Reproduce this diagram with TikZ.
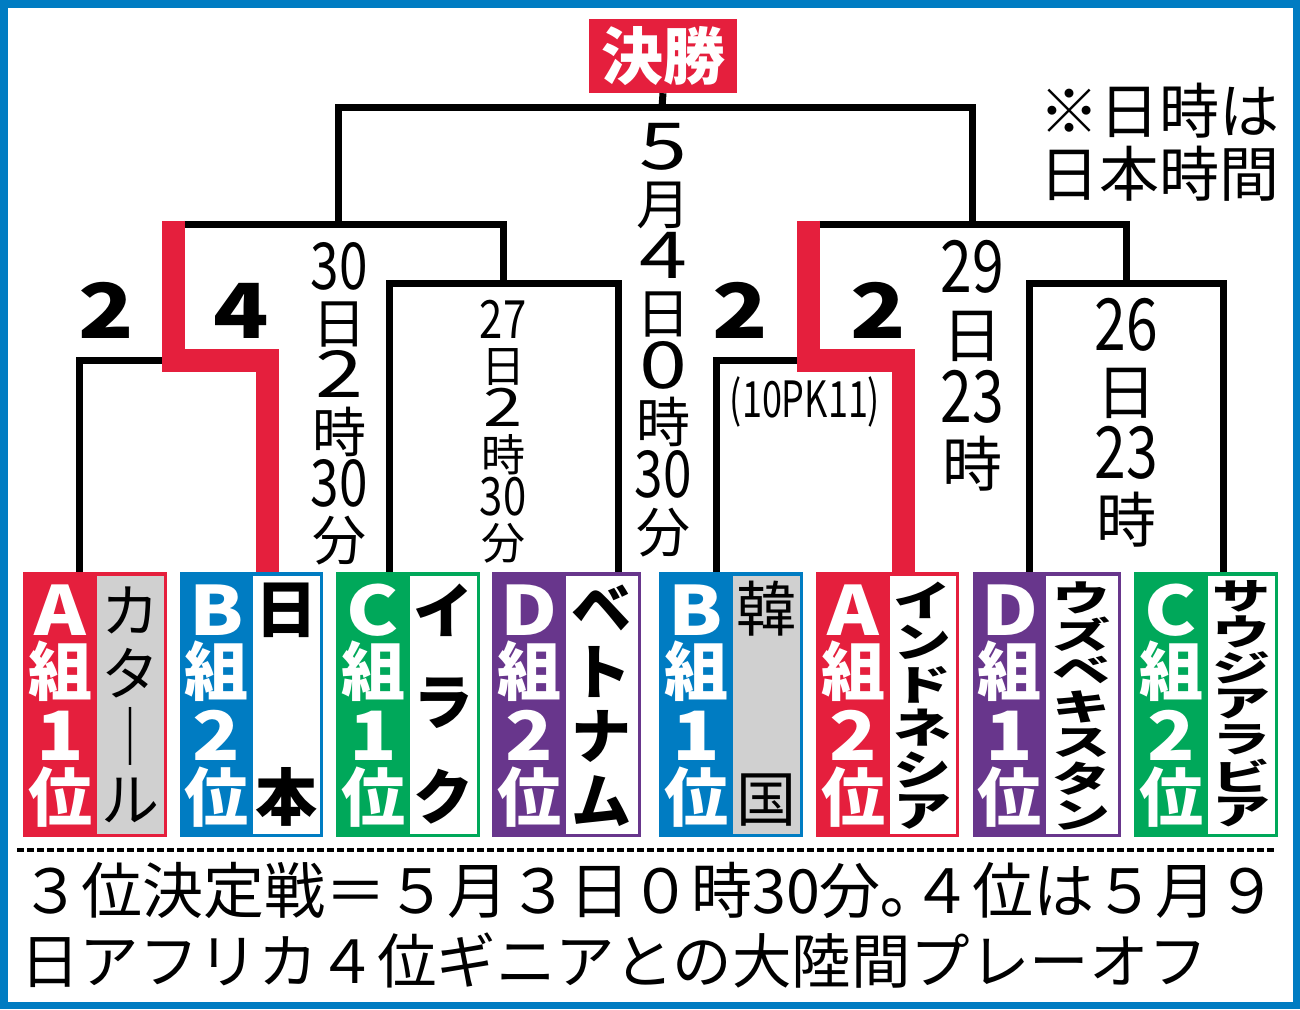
\documentclass[tikz,border=0pt]{standalone}
\usepackage{fontspec}
\usetikzlibrary{calc}
\newfontfamily\jp{Noto Sans CJK JP}
\newcommand\jpb{\jp\bfseries}
\newcommand\fs[2]{\fontsize{#1}{#2}\selectfont}
\newcommand\sg[1]{\scalebox{1.6}[1.2]{#1}}  % single digit, vertical text
\newcommand\pr[1]{\scalebox{0.95}[1.2]{#1}} % digit pair, vertical text

\definecolor{jred}{RGB}{229,31,61}
\definecolor{jblue}{RGB}{0,124,194}
\definecolor{jgreen}{RGB}{0,168,90}
\definecolor{jpurple}{RGB}{104,54,140}
\definecolor{jgray}{RGB}{208,208,208}

\tikzset{
  bk/.style={line width=7pt, line join=miter},
  win/.style={line width=23pt, color=jred, line join=miter},
  teambox/.style={inner sep=0pt, minimum height=265pt},
  namebox/.style={inner sep=0pt, minimum height=258pt, anchor=north west},
  grpL/.style={anchor=base, inner sep=0pt, text=white, font=\jpb\fs{68}{68}},
  grpK/.style={anchor=base, inner sep=0pt, text=white, font=\jpb\fs{64}{64}},
  score/.style={anchor=base, inner sep=0pt, font=\jpb\fs{76}{76}},
  datecol/.style={anchor=north, inner sep=0pt, align=center},
}

\begin{document}
\begin{tikzpicture}[x=1pt, y=-1pt]
\useasboundingbox (0,0) rectangle (1300,1009);
\draw[jblue, line width=7.5pt] (3.75,3.75) rectangle (1296.25,1005.25); % frame

% team boxes
\foreach \xl/\xs/\xr/\col/\bg/\g/\d/\id in {
  23/97/167/jred/jgray/A/1/qat, 180/253/323/jblue/white/B/2/jpn,
  336/410/480/jgreen/white/C/1/irq, 492/566/641/jpurple/white/D/2/vie,
  659/733/803/jblue/jgray/B/1/kor, 816/890/959/jred/white/A/2/idn,
  973/1046/1121/jpurple/white/D/1/uzb, 1134/1208/1278/jgreen/white/C/2/ksa}{
  \node[teambox, fill=\col, minimum width={\xr-\xl}] (\id) at ({(\xl+\xr)/2},704.5) {};
  \node[namebox, fill=\bg, minimum width={\xr-\xs-3.5}] (\id-n) at (\xs,575.5) {};
  \node[grpL] (\id-g) at ({(\xl+\xs)/2},635) {\scalebox{1.15}[1]{\g}};
  \node[grpK] (\id-k) at ({(\xl+\xs)/2},695) {組};
  \node[grpL] (\id-d) at ({(\xl+\xs)/2},760) {\scalebox{1.15}[1]{\d}};
  \node[grpK] (\id-i) at ({(\xl+\xs)/2},821) {位};
}

% team names
\foreach \id/\ya/\yb/\nn/\sz/\ys/\wt/\lst in {
  qat/610/800/4/58/1/\jp/{カ,タ,｜,ル},
  jpn/610/797/2/62/1/\jpb/{日,本},
  irq/610/797/3/60/1/\jpb/{イ,ラ,ク},
  vie/608/801/4/60/1/\jpb/{ベ,ト,ナ,ム},
  kor/609/800/2/60/1/\jp/{韓,国},
  idn/600/812/6/58/0.72/\jpb/{イ,ン,ド,ネ,シ,ア},
  uzb/598/815/7/58/0.62/\jpb/{ウ,ズ,ベ,キ,ス,タ,ン},
  ksa/596/812/7/58/0.62/\jpb/{サ,ウ,ジ,ア,ラ,ビ,ア}}{
  \foreach \c [count=\i] in \lst
    \node[inner sep=0pt, font=\wt\fs{\sz}{\sz}] (\id-c\i)
      at (\id-n.center |- 0,{\ya+(\i-1)*(\yb-\ya)/(\nn-1)}) {\scalebox{1}[\ys]{\c}};
}

\foreach \id/\x in {qat/79, jpn/267, irq/389, vie/618, kor/716, idn/903, uzb/1029, ksa/1223}
  \coordinate (\id-t) at (\id.north -| \x,0);

\coordinate (qf1) at (173,360.5);
\coordinate (qf2) at (503,283);
\coordinate (qf3) at (808,360.5);
\coordinate (qf4) at (1126,283);
\coordinate (sf1) at (338,224);
\coordinate (sf2) at (972,224);
\coordinate (fin) at (662,107);

\node[fill=jred, text=white, font=\jpb\fs{62}{62}, inner sep=0pt,
  minimum width=148, minimum height=74] (final) at (663,56) {決勝};

% bracket
\draw[bk] (qat-t) |- (qf1) -| (jpn-t);
\draw[bk] (irq-t) |- (qf2) -| (vie-t);
\draw[bk] (kor-t) |- (qf3) -| (idn-t);
\draw[bk] (uzb-t) |- (qf4) -| (ksa-t);
\draw[bk] (qf1 |- sf1) -- (qf2 |- sf1) -- (qf2);
\draw[bk] (qf3 |- sf2) -- (qf4 |- sf2) -- (qf4);
\draw[bk] (sf1) |- (fin) -| (sf2);
\draw[bk] (fin) -- (final.south);
\draw[win] ($(qf1 |- sf1)+(0,-3.5)$) -- (qf1) -| (jpn-t); % winner path
\draw[win] ($(qf3 |- sf2)+(0,-3.5)$) -- (qf3) -| (idn-t);

% scores
\node[score] (s-qat) at (106,338) {\scalebox{1.2}[1]{2}};
\node[score] (s-jpn) at (241,338) {\scalebox{1.2}[1]{4}};
\node[score] (s-kor) at (740,338) {\scalebox{1.2}[1]{2}};
\node[score] (s-idn) at (878,338) {\scalebox{1.2}[1]{2}};
\node[inner sep=0pt, font=\jp\fs{50}{50}] (pk) at (805,402) {\scalebox{0.72}[1]{(10PK11)}};

% dates
\node[datecol, font=\jp\fs{54}{54.7}] (d-fin) at (663,123) {\sg{5}\\月\\\sg{4}\\日\\\sg{0}\\時\\\pr{30}\\分};
\node[datecol, font=\jp\fs{54}{54.3}] (d-qf1) at (339,242) {\pr{30}\\日\\\sg{2}\\時\\\pr{30}\\分};
\node[datecol, font=\jp\fs{44}{44.2}] (d-qf2) at (503,300) {\pr{27}\\日\\\sg{2}\\時\\\pr{30}\\分};
\node[datecol, font=\jp\fs{60}{64.8}] (d-sf2) at (972,240) {\pr{29}\\日\\\pr{23}\\時};
\node[datecol, font=\jp\fs{60}{64}] (d-qf4) at (1126,298) {\pr{26}\\日\\\pr{23}\\時};

\node[anchor=north east, align=right, inner sep=0pt, font=\jp\fs{60}{63}] (note) at (1280,83) {※日時は\\日本時間};

% footer
\coordinate (sepL) at (17,850);
\coordinate (sepR) at (1277,850);
\draw[line width=4pt, dash pattern=on 6.5pt off 3.5pt] (sepL) -- (sepR);
\node[anchor=north west, align=left, inner sep=0pt, font=\jp\fs{61}{70}] (foot) at (20,862)
  {３位決定戦＝５月３日０時30分｡４位は５月９\\\fs{59.5}{70}日アフリカ４位ギニアとの大陸間プレーオフ};
\end{tikzpicture}
\end{document}
